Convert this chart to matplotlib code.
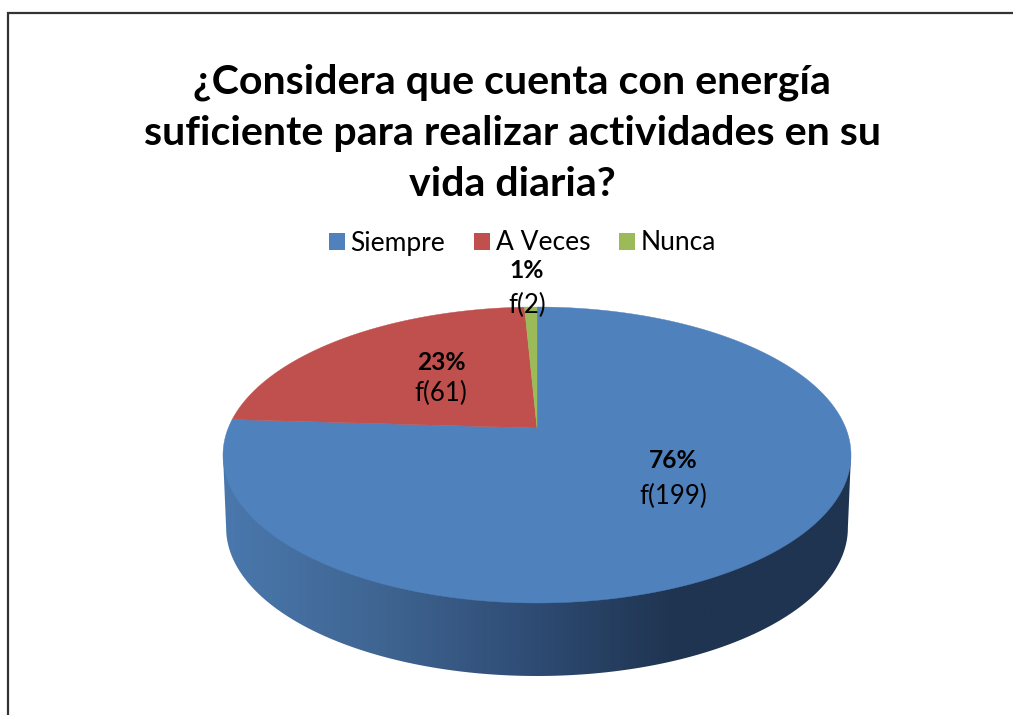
import matplotlib
matplotlib.use('Agg')
import matplotlib.pyplot as plt
import numpy as np
from matplotlib.colors import LinearSegmentedColormap
from matplotlib.patches import Patch, Polygon

plt.rcParams['font.family'] = ['Lato', 'DejaVu Sans']

title = '¿Considera que cuenta con energía\nsuficiente para realizar actividades en su\nvida diaria?'
categories = ['Siempre', 'A Veces', 'Nunca']
counts = [199, 61, 2]
percents = ['76%', '23%', '1%']
colors = ['#4f81bd', '#c0504d', '#9bbb59']

# everything is laid out in image pixels
fig = plt.figure(figsize=(10.13, 7.15), dpi=100)
ax = fig.add_axes([0, 0, 1, 1])
ax.set_xlim(0, 1013)
ax.set_ylim(715, 0)
ax.axis('off')

# pie geometry: a circle seen in perspective, apex sits above the ellipse centre
cx, cy = 537, 428
k = 54 / 296
a = 121 * (1 + k)
b = 314 * np.sqrt(1 - k ** 2)
depth = 73
shrink = 0.99


def project(theta, scale=1.0, drop=0.0):
    v = np.sin(theta)
    w = 1 + k * v
    return cx + scale * b * np.cos(theta) / w, cy + drop - a * v / w


# side wall with a horizontal gradient
t_low = np.linspace(np.pi + np.arcsin(k), 2 * np.pi - np.arcsin(k), 300)
xb, yb = project(t_low, shrink, depth)
xt, yt = project(t_low[[0, -1]])
side = np.vstack([[xt[0], yt[0]], np.column_stack([xb, yb]), [xt[1], yt[1]]])
side_patch = Polygon(side, closed=True, facecolor='none', edgecolor='none')
ax.add_patch(side_patch)

shade = LinearSegmentedColormap.from_list('shade', [
    (0.0, '#4a78ad'), (0.25, '#3f6592'), (0.5, '#2e4b73'),
    (0.72, '#1f3450'), (1.0, '#1f3450')])
grad = ax.imshow(np.linspace(0, 1, 512).reshape(1, -1), cmap=shade, vmin=0, vmax=1,
                 extent=(222, 851, 715, 0), aspect='auto', zorder=1)
grad.set_clip_path(side_patch)
ax.set_xlim(0, 1013)
ax.set_ylim(715, 0)

# top face, clockwise from twelve o'clock
start = np.pi / 2
for value, color in zip(counts, colors):
    sweep = 2 * np.pi * value / sum(counts)
    t = np.linspace(start, start - sweep, 400)
    x, y = project(t)
    pts = np.vstack([[cx, cy], np.column_stack([x, y])])
    ax.add_patch(Polygon(pts, closed=True, facecolor=color, edgecolor=color, linewidth=0.3, zorder=2))
    start -= sweep

# data labels
label_x = [673, 441, 527]
pct_y = [460, 362, 270]
count_y = [496, 393, 305]
for i in range(3):
    ax.text(label_x[i], pct_y[i], percents[i], ha='center', va='center', fontsize=17.7,
            fontweight='bold', color='black', zorder=3)
    ax.text(label_x[i], count_y[i], 'f(%d)' % counts[i], ha='center', va='center', fontsize=18.5,
            color='black', zorder=3)

ax.text(512, 133, title, ha='center', va='center', fontsize=29.6, fontweight='bold',
        color='black', linespacing=1.46)

handles = [Patch(facecolor=c, edgecolor='none') for c in colors]
ax.legend(handles, categories, loc='center', bbox_to_anchor=(522.5 / 1013, 1 - 243 / 715), ncols=3,
          frameon=False, fontsize=19, handlelength=0.6, handleheight=0.6,
          handletextpad=0.22, columnspacing=1.1, borderpad=0, labelcolor='black')

# outer frame, cut by the image on the right and at the bottom
ax.plot([8, 8, 1013], [715, 13, 13], color='#333333', linewidth=1.6, solid_joinstyle='miter', zorder=5)

plt.savefig('out.png', dpi=100)
